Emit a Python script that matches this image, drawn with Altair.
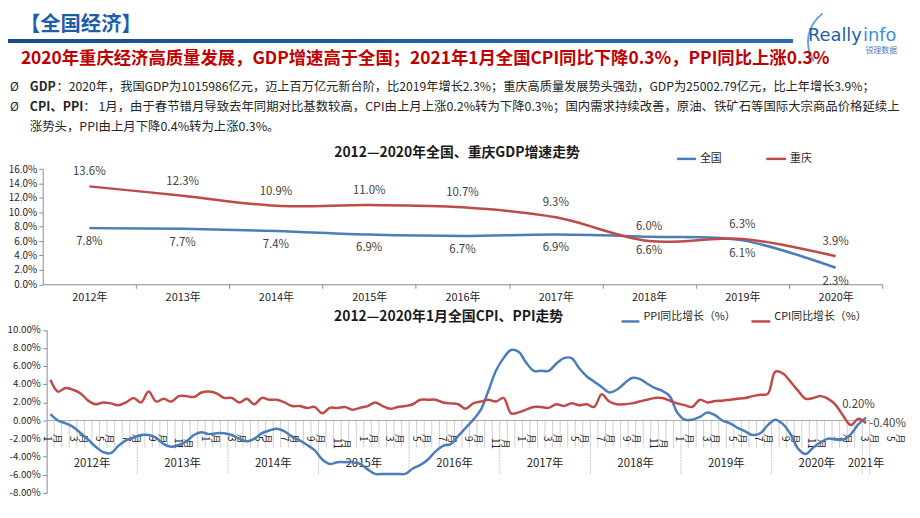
import altair as alt
import pandas as pd

FONT = "Noto Sans CJK SC"
BLUE = "#4A7EBB"
RED = "#BE4B48"
AXIS_GREY = "#8C8C8C"
TEXT = "#262626"

# ---------------- data ----------------
years = ["2012年", "2013年", "2014年", "2015年", "2016年", "2017年", "2018年", "2019年", "2020年"]
gdp_national = [7.8, 7.7, 7.4, 6.9, 6.7, 6.9, 6.6, 6.1, 2.3]
gdp_chongqing = [13.6, 12.3, 10.9, 11.0, 10.7, 9.3, 6.0, 6.3, 3.9]

# monthly, Jan 2012 .. Jan 2021 (year-on-year, %)
ppi = [0.7, 0.0, -0.3, -0.7, -1.4, -2.1, -2.9, -3.5, -3.6, -2.8, -2.2, -1.9,
       -1.6, -1.6, -1.9, -2.6, -2.9, -2.7, -2.3, -1.6, -1.3, -1.5, -1.4, -1.4,
       -1.6, -2.0, -2.3, -2.0, -1.4, -1.1, -0.9, -1.2, -1.8, -2.2, -2.7, -3.3,
       -4.3, -4.8, -4.6, -4.6, -4.6, -4.8, -5.4, -5.9, -5.9, -5.9, -5.9, -5.9,
       -5.3, -4.9, -4.3, -3.4, -2.8, -2.6, -1.7, -0.8, 0.1, 1.2, 3.3, 5.5,
       6.9, 7.8, 7.6, 6.4, 5.5, 5.5, 5.5, 6.3, 6.9, 6.9, 5.8, 4.9,
       4.3, 3.7, 3.1, 3.4, 4.1, 4.7, 4.6, 4.1, 3.6, 3.3, 2.7, 0.9,
       0.1, 0.1, 0.4, 0.9, 0.6, 0.0, -0.3, -0.8, -1.2, -1.6, -1.4, -0.5,
       0.1, -0.4, -1.5, -3.1, -3.7, -3.0, -2.4, -2.0, -2.1, -2.1, -1.5, -0.4,
       0.3]
cpi = [4.5, 3.2, 3.6, 3.4, 3.0, 2.2, 1.8, 2.0, 1.9, 1.7, 2.0, 2.5,
       2.0, 3.2, 2.1, 2.4, 2.1, 2.7, 2.7, 2.6, 3.1, 3.2, 3.0, 2.5,
       2.5, 2.0, 2.4, 1.8, 2.5, 2.3, 2.3, 2.0, 1.6, 1.6, 1.4, 1.5,
       0.8, 1.4, 1.4, 1.5, 1.2, 1.4, 1.6, 2.0, 1.6, 1.3, 1.5, 1.6,
       1.8, 2.3, 2.3, 2.3, 2.0, 1.9, 1.8, 1.3, 1.9, 2.1, 2.3, 2.1,
       2.5, 0.8, 0.9, 1.2, 1.5, 1.5, 1.4, 1.8, 1.6, 1.9, 1.7, 1.8,
       1.5, 2.9, 2.1, 1.8, 1.8, 1.9, 2.1, 2.3, 2.5, 2.5, 2.2, 1.9,
       1.7, 1.5, 2.3, 2.0, 2.15, 2.2, 2.3, 2.4, 2.5, 2.7, 2.85, 2.95,
       5.4, 5.2, 4.3, 3.3, 2.4, 2.5, 2.7, 2.4, 1.7, 0.5, -0.5, 0.2,
       -0.3]

year_labels = ["2012年", "2013年", "2014年", "2015年", "2016年", "2017年", "2018年", "2019年", "2020年", "2021年"]
year_label_pos = [5.5, 17.5, 29.5, 41.5, 53.5, 65.5, 77.5, 89.5, 101.5, 108]
month_label_text = ["1", "3", "5", "7", "9", "11"] * 5 + ["1", "3", "5"]
series_names2 = ["PPI同比增长（%）", "CPI同比增长（%）"]
ticks2 = [-8, -6, -4, -2, 0, 2, 4, 6, 8, 10]
ticks1 = [0, 2, 4, 6, 8, 10, 12, 14, 16]

# ---------------- helpers ----------------
W, H = 912, 502
one = pd.DataFrame({"k": [0]})


def text_mark(text, x, y, size=12.5, weight="normal", color=TEXT, align="left",
              baseline="middle", font=FONT):
    return alt.Chart(one).mark_text(
        text=text, font=font, fontSize=size, fontWeight=weight, color=color,
        align=align, baseline=baseline
    ).encode(x=alt.value(x), y=alt.value(y))


def hrule(x1, x2, y, color, width=2.5):
    return alt.Chart(one).mark_rule(color=color, strokeWidth=width).encode(
        x=alt.value(x1), x2=alt.value(x2), y=alt.value(y))


layers = []

# ---------------- header ----------------
layers.append(alt.Chart(one).mark_rect(
    fill=alt.Gradient(gradient="linear",
                      stops=[alt.GradientStop(color="#1A4C90", offset=0),
                             alt.GradientStop(color="#2C6CB6", offset=1)],
                      x1=0, x2=1, y1=0, y2=0)
).encode(x=alt.value(0), x2=alt.value(792), y=alt.value(29), y2=alt.value(33)))
layers.append(text_mark("【全国经济】", 12, 15, size=20.5, weight="bold", color="#1F5DA8"))

# logo
layers.append(alt.Chart(one).mark_arc(radius=36, radius2=34, theta=4.12, theta2=5.67,
                                       color="#6AA5DA").encode(x=alt.value(842), y=alt.value(32)))
layers.append(text_mark("Really", 807, 31, size=18, color="#1F5FA8", baseline="alphabetic",
                        font="DejaVu Sans"))
layers.append(text_mark("info", 862.5, 31, size=18, color="#3E8ED8", baseline="alphabetic",
                        font="DejaVu Sans"))
layers.append(text_mark("锐理数据", 865, 41.5, size=8, color="#4A7EBB"))

layers.append(text_mark(
    "2020年重庆经济高质量发展，GDP增速高于全国；2021年1月全国CPI同比下降0.3%，PPI同比上涨0.3%",
    13, 49, size=17.5, weight="bold", color="#C00000"))

for yy in (78, 98):
    layers.append(text_mark("Ø", 2, yy, size=12))
layers.append(text_mark("GDP", 22, 78, weight="bold"))
layers.append(text_mark(
    "：2020年，我国GDP为1015986亿元，迈上百万亿元新台阶，比2019年增长2.3%；重庆高质量发展势头强劲，GDP为25002.79亿元，比上年增长3.9%；",
    49, 78, size=12.3))
layers.append(text_mark("CPI、PPI", 22, 98, weight="bold"))
layers.append(text_mark(
    "： 1月，由于春节错月导致去年同期对比基数较高，CPI由上月上涨0.2%转为下降0.3%；国内需求持续改善，原油、铁矿石等国际大宗商品价格延续上",
    76, 98))
layers.append(text_mark("涨势头，PPI由上月下降0.4%转为上涨0.3%。", 22, 118))

# ---------------- chart 1: GDP ----------------
gdp_df = pd.DataFrame({
    "year": years * 2,
    "series": ["全国"] * len(years) + ["重庆"] * len(years),
    "value": gdp_national + gdp_chongqing,
})
gdp_df["label"] = gdp_df["value"].map(lambda v: f"{v:.1f}%")

band = (882 - 35) / len(years)
xs1 = alt.Scale(type="point", domain=years, range=[35, 882], padding=0.5)
ys1 = alt.Scale(domain=[0, 16], range=[276.5, 160.3], nice=False, zero=False)
ax1x = alt.Axis(orient="bottom", offset=276.5 - H, title=None, labelAngle=0,
                tickOffset=band / 2, labelOffset=-band / 2, tickSize=4,
                domainColor=AXIS_GREY, tickColor=AXIS_GREY, labelFont=FONT,
                labelFontSize=11, labelColor=TEXT, labelPadding=3, grid=False,
                labelOverlap=False)
ax1y = alt.Axis(orient="left", offset=-35, values=ticks1,
                labelExpr="format(datum.value, '.1f') + '%'", title=None, grid=False,
                tickSize=4, labelPadding=2, domainColor=AXIS_GREY, tickColor=AXIS_GREY,
                labelFont=FONT, labelFontSize=10, labelColor=TEXT, labelOverlap=False,
                labelFlush=False)
color1 = alt.Scale(domain=["全国", "重庆"], range=[BLUE, RED])

layers.append(alt.Chart(gdp_df).mark_line(interpolate="catmull-rom", strokeWidth=2.5).encode(
    x=alt.X("year:N", scale=xs1, axis=ax1x, sort=years),
    y=alt.Y("value:Q", scale=ys1, axis=ax1y),
    color=alt.Color("series:N", scale=color1, legend=None),
))
layers.append(alt.Chart(gdp_df[gdp_df.series == "重庆"]).mark_text(
    dy=-14, font=FONT, fontSize=11.5, color="#404040").encode(
    x=alt.X("year:N", scale=xs1, axis=None, sort=years),
    y=alt.Y("value:Q", scale=ys1, axis=None),
    text="label:N"))
layers.append(alt.Chart(gdp_df[gdp_df.series == "全国"]).mark_text(
    dy=14, font=FONT, fontSize=11.5, color="#404040").encode(
    x=alt.X("year:N", scale=xs1, axis=None, sort=years),
    y=alt.Y("value:Q", scale=ys1, axis=None),
    text="label:N"))

layers.append(text_mark("2012—2020年全国、重庆GDP增速走势", 453, 144, size=14, weight="bold",
                        color="#1a1a1a", align="center"))
layers.append(hrule(675, 694, 150, BLUE))
layers.append(text_mark("全国", 698, 150, size=11))
layers.append(hrule(765, 785, 150, RED))
layers.append(text_mark("重庆", 789, 150, size=11))

# ---------------- chart 2: CPI / PPI ----------------
n = len(ppi)
m_df = pd.DataFrame({
    "m": list(range(n)) * 2,
    "series": [series_names2[0]] * n + [series_names2[1]] * n,
    "value": ppi + cpi,
})
xs2 = alt.Scale(domain=[-0.5, 108.5], range=[39, 869.4], nice=False, zero=False)
ys2 = alt.Scale(domain=[-8, 10], range=[487, 322.7], nice=False, zero=False)
ax2y = alt.Axis(orient="left", offset=-39, values=ticks2, labels=False, title=None,
                grid=False, tickSize=4, domainColor=AXIS_GREY, tickColor=AXIS_GREY)
color2 = alt.Scale(domain=series_names2, range=[BLUE, RED])

# value axis (line + ticks) and its labels drawn through the same scale
axis_df = pd.DataFrame({"v": ticks2})
axis_df["lbl"] = axis_df["v"].map(lambda v: f"{v:.2f}%")
layers.append(alt.Chart(axis_df).mark_text(font=FONT, fontSize=9.8, color=TEXT,
                                           align="right", baseline="middle").encode(
    y=alt.Y("v:Q", scale=ys2, axis=ax2y),
    x=alt.value(33),
    text="lbl:N"))

# month boundary ticks and year separators
bound_df = pd.DataFrame({"b": [j - 0.5 for j in range(n + 1)], "y0": 0.0, "y1": -3.0})
layers.append(alt.Chart(bound_df).mark_rule(color="#CFCFCF", strokeWidth=1).encode(
    x=alt.X("b:Q", scale=xs2, axis=None),
    y=alt.Y("y0:Q", scale=ys2, axis=None),
    y2="y1:Q"))
sep_df = pd.DataFrame({"b": [j - 0.5 for j in range(0, n, 12)] + [n - 0.5], "y0": -3.0, "y1": -6.0})
layers.append(alt.Chart(sep_df).mark_rule(color="#C4C4C4", strokeWidth=1, strokeDash=[2, 1]).encode(
    x=alt.X("b:Q", scale=xs2, axis=None),
    y=alt.Y("y0:Q", scale=ys2, axis=None),
    y2="y1:Q"))
zero_df = pd.DataFrame({"a": [-0.5], "b": [108.5], "y": [0.0]})
layers.append(alt.Chart(zero_df).mark_rule(color="#A3ACA3", strokeWidth=1).encode(
    x=alt.X("a:Q", scale=xs2, axis=None), x2="b:Q",
    y=alt.Y("y:Q", scale=ys2, axis=None)))

# month labels (rotated), year labels
ml_df = pd.DataFrame({
    "t": month_label_text,
    "pos": [-0.5 + 3.49 * k for k in range(len(month_label_text))],
})
ml_df["pos2"] = ml_df["pos"] + 10 / 7.618
ml_df["ly"] = ml_df["t"].map(lambda t: -2.55 if len(t) > 1 else -2.0)
ml_df["yue"] = "月"
layers.append(alt.Chart(ml_df).mark_text(angle=90, font=FONT, fontSize=10, color=TEXT,
                                         align="center", baseline="middle").encode(
    x=alt.X("pos:Q", scale=xs2, axis=None),
    y=alt.Y("ly:Q", scale=ys2, axis=None),
    text="t:N"))
layers.append(alt.Chart(ml_df).mark_text(angle=90, font=FONT, fontSize=9.5, color=TEXT,
                                         align="center", baseline="middle").encode(
    x=alt.X("pos2:Q", scale=xs2, axis=None),
    y=alt.Y("ly:Q", scale=ys2, axis=None),
    text="yue:N"))
yl_df = pd.DataFrame({"t": year_labels, "pos": year_label_pos, "ly": -4.85})
layers.append(alt.Chart(yl_df).mark_text(font=FONT, fontSize=11.5, color=TEXT).encode(
    x=alt.X("pos:Q", scale=xs2, axis=None),
    y=alt.Y("ly:Q", scale=ys2, axis=None),
    text="t:N"))

# series lines
layers.append(alt.Chart(m_df).mark_line(interpolate="catmull-rom", strokeWidth=2.5).encode(
    x=alt.X("m:Q", scale=xs2, axis=None),
    y=alt.Y("value:Q", scale=ys2, axis=None),
    color=alt.Color("series:N", scale=color2, legend=None),
))

# data labels on Dec 2020 points
lab_df = pd.DataFrame({"m": [107], "cpi": [cpi[107]], "ppi": [ppi[107]]})
lab_df["tc"] = lab_df["cpi"].map(lambda v: f"{v:.2f}%")
lab_df["tp"] = lab_df["ppi"].map(lambda v: f"{v:.2f}%")
layers.append(alt.Chart(lab_df).mark_text(dy=-14, font=FONT, fontSize=11.5, color="#404040").encode(
    x=alt.X("m:Q", scale=xs2, axis=None),
    y=alt.Y("cpi:Q", scale=ys2, axis=None),
    text="tc:N"))
layers.append(alt.Chart(lab_df).mark_text(dx=11, align="left", font=FONT, fontSize=11.5,
                                          color="#404040").encode(
    x=alt.X("m:Q", scale=xs2, axis=None),
    y=alt.Y("ppi:Q", scale=ys2, axis=None),
    text="tp:N"))

layers.append(text_mark("2012—2020年1月全国CPI、PPI走势", 444.5, 310, size=14, weight="bold",
                        color="#1a1a1a", align="center"))
layers.append(hrule(619, 637, 314, BLUE))
layers.append(text_mark(series_names2[0], 641, 310, size=11))
layers.append(hrule(750, 769, 314, RED))
layers.append(text_mark(series_names2[1], 773, 310, size=11))

chart = alt.layer(*layers).resolve_scale(
    x="independent", y="independent", color="independent"
).properties(
    width=W, height=H, autosize=alt.AutoSizeParams(type="none"), padding=0
).configure_view(stroke=None)

chart.save("out.html", embed_options={"renderer": "svg", "actions": False})
